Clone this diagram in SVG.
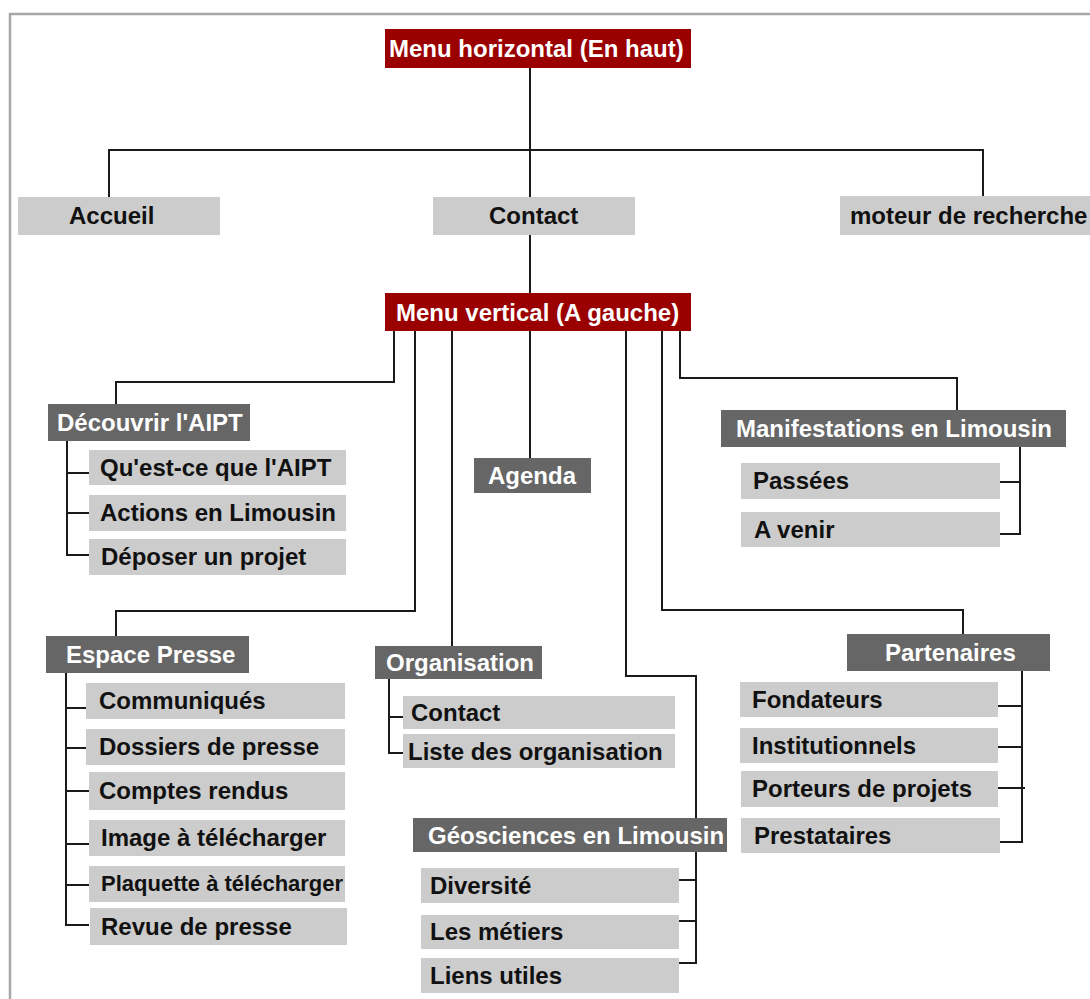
<svg xmlns="http://www.w3.org/2000/svg" width="1090" height="999" viewBox="0 0 1090 999">
<style>
.bg{fill:#ffffff}
.frame{fill:none;stroke:#a8a8a8;stroke-width:2.5}
.top{fill:#9a0000}
.sec{fill:#666666}
.item{fill:#cccccc}
.wt{fill:#ffffff;font-family:"Liberation Sans",Arial,sans-serif;font-weight:bold;font-size:24px}
.bt{fill:#111111;font-family:"Liberation Sans",Arial,sans-serif;font-weight:bold;font-size:24px}
.ln{fill:none;stroke:#1a1a1a;stroke-width:2}
</style>
<rect class="bg" x="0" y="0" width="1090" height="999"/>
<path class="frame" d="M10,999 V14 H1090"/>

<g id="connectors">
  <path class="ln" d="M530,68 V197"/>
  <path class="ln" d="M109,197 V150 H983 V196"/>
  <path class="ln" d="M530,235 V293"/>
  <path class="ln" d="M394,331 V382 H116 V404"/>
  <path class="ln" d="M415,331 V611 H116 V636"/>
  <path class="ln" d="M452,331 V646"/>
  <path class="ln" d="M530,331 V458"/>
  <path class="ln" d="M626,331 V676 H696 V963 H679"/>
  <path class="ln" d="M679,880 H696 M679,921 H696"/>
  <path class="ln" d="M662,331 V610 H963 V634"/>
  <path class="ln" d="M680,331 V378 H957 V410"/>
  <path class="ln" d="M1020,447 V534 H1000 M1000,482 H1020"/>
  <path class="ln" d="M67,441 V555 H89 M67,473 H89 M67,513 H89"/>
  <path class="ln" d="M66,673 V925 H89 M66,708 H86 M66,748 H86 M66,791 H89 M66,844 H89 M66,885 H89"/>
  <path class="ln" d="M389,679 V753 H403 M389,717 H403"/>
  <path class="ln" d="M1022,671 V842 H1000 M998,706 H1022 M998,747 H1022 M998,788 H1025"/>
</g>

<g id="menu-horizontal"><rect class="top" x="385" y="29" width="306" height="39"/><text class="wt" x="389" y="57">Menu horizontal (En haut)</text></g>
<g id="accueil"><rect class="item" x="18" y="197" width="202" height="38"/><text class="bt" x="69" y="224">Accueil</text></g>
<g id="contact-top"><rect class="item" x="433" y="197" width="202" height="38"/><text class="bt" x="489" y="224">Contact</text></g>
<g id="moteur"><rect class="item" x="840" y="196" width="250" height="39"/><text class="bt" x="850" y="224">moteur de recherche</text></g>
<g id="menu-vertical"><rect class="top" x="385" y="293" width="306" height="38"/><text class="wt" x="396" y="321">Menu vertical (A gauche)</text></g>

<g id="decouvrir"><rect class="sec" x="48" y="404" width="202" height="37"/><text class="wt" x="57" y="431">Découvrir l'AIPT</text></g>
<g id="quest-ce"><rect class="item" x="89" y="450" width="257" height="35"/><text class="bt" x="100" y="476">Qu'est-ce que l'AIPT</text></g>
<g id="actions"><rect class="item" x="89" y="495" width="257" height="36"/><text class="bt" x="100" y="521">Actions en Limousin</text></g>
<g id="deposer"><rect class="item" x="89" y="539" width="257" height="36"/><text class="bt" x="101" y="565">Déposer un projet</text></g>

<g id="agenda"><rect class="sec" x="474" y="458" width="117" height="35"/><text class="wt" x="488" y="484">Agenda</text></g>

<g id="manifestations"><rect class="sec" x="721" y="410" width="345" height="37"/><text class="wt" x="736" y="437">Manifestations en Limousin</text></g>
<g id="passees"><rect class="item" x="741" y="463" width="259" height="36"/><text class="bt" x="753" y="489">Passées</text></g>
<g id="a-venir"><rect class="item" x="741" y="512" width="259" height="35"/><text class="bt" x="754" y="538">A venir</text></g>

<g id="espace-presse"><rect class="sec" x="46" y="636" width="203" height="37"/><text class="wt" x="66" y="663">Espace Presse</text></g>
<g id="communiques"><rect class="item" x="86" y="683" width="259" height="36"/><text class="bt" x="99" y="709">Communiqués</text></g>
<g id="dossiers"><rect class="item" x="86" y="729" width="259" height="36"/><text class="bt" x="99" y="755">Dossiers de presse</text></g>
<g id="comptes"><rect class="item" x="89" y="772" width="256" height="38"/><text class="bt" x="99" y="799">Comptes rendus</text></g>
<g id="image"><rect class="item" x="89" y="820" width="256" height="36"/><text class="bt" x="101" y="846">Image à télécharger</text></g>
<g id="plaquette"><rect class="item" x="89" y="866" width="256" height="36"/><text class="bt" x="101" y="891" style="font-size:22px">Plaquette à télécharger</text></g>
<g id="revue"><rect class="item" x="90" y="908" width="257" height="37"/><text class="bt" x="101" y="935">Revue de presse</text></g>

<g id="organisation"><rect class="sec" x="375" y="646" width="167" height="33"/><text class="wt" x="386" y="671">Organisation</text></g>
<g id="contact-org"><rect class="item" x="403" y="696" width="272" height="33"/><text class="bt" x="411" y="721">Contact</text></g>
<g id="liste"><rect class="item" x="403" y="734" width="272" height="34"/><text class="bt" x="408" y="760">Liste des organisation</text></g>

<g id="geosciences"><rect class="sec" x="413" y="818" width="314" height="34"/><text class="wt" x="428" y="844">Géosciences en Limousin</text></g>
<g id="diversite"><rect class="item" x="421" y="868" width="258" height="35"/><text class="bt" x="430" y="894">Diversité</text></g>
<g id="metiers"><rect class="item" x="421" y="915" width="258" height="34"/><text class="bt" x="430" y="940">Les métiers</text></g>
<g id="liens"><rect class="item" x="421" y="958" width="258" height="35"/><text class="bt" x="430" y="984">Liens utiles</text></g>

<g id="partenaires"><rect class="sec" x="847" y="634" width="203" height="37"/><text class="wt" x="885" y="661">Partenaires</text></g>
<g id="fondateurs"><rect class="item" x="740" y="682" width="258" height="35"/><text class="bt" x="752" y="708">Fondateurs</text></g>
<g id="institutionnels"><rect class="item" x="740" y="728" width="258" height="35"/><text class="bt" x="752" y="754">Institutionnels</text></g>
<g id="porteurs"><rect class="item" x="741" y="771" width="257" height="36"/><text class="bt" x="752" y="797">Porteurs de projets</text></g>
<g id="prestataires"><rect class="item" x="741" y="818" width="259" height="35"/><text class="bt" x="754" y="844">Prestataires</text></g>
</svg>
